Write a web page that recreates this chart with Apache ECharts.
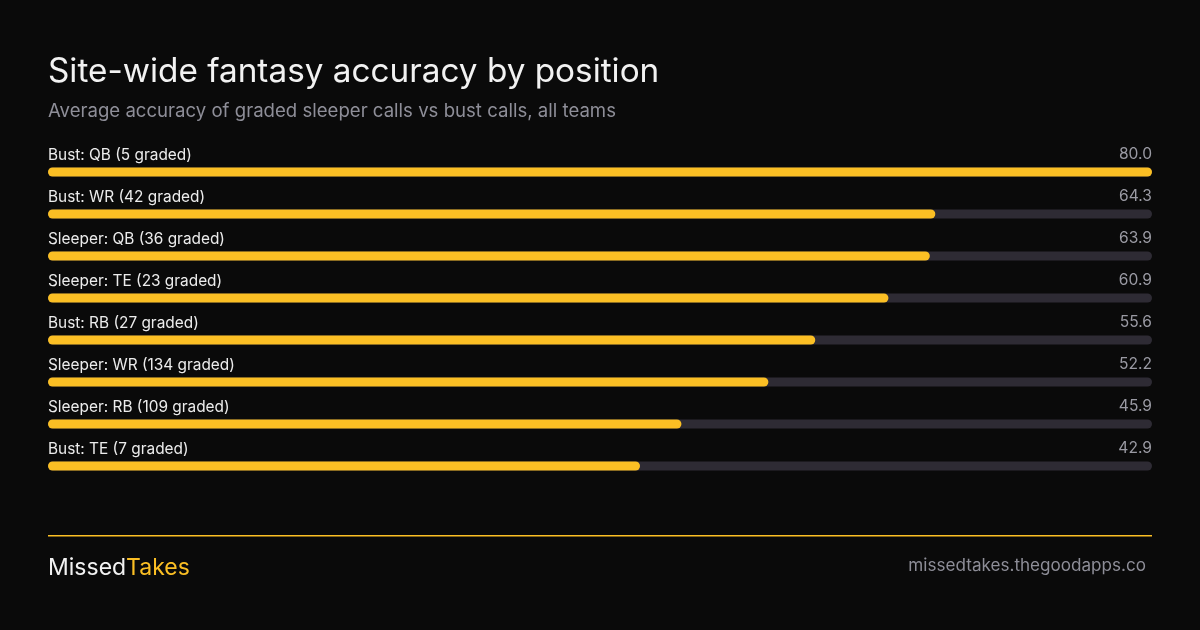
<!DOCTYPE html>
<html>
<head>
<meta charset="utf-8">
<title>Site-wide fantasy accuracy by position</title>
<script src="https://cdn.jsdelivr.net/npm/echarts@6/dist/echarts.min.js"></script>
<style>
  html, body { margin: 0; padding: 0; background: #0a0a0a; }
  #chart { width: 1200px; height: 630px; }
</style>
</head>
<body>
<div id="chart"></div>
<script>
  // data, top to bottom
  const categories = [
    'Bust: QB (5 graded)',
    'Bust: WR (42 graded)',
    'Sleeper: QB (36 graded)',
    'Sleeper: TE (23 graded)',
    'Bust: RB (27 graded)',
    'Sleeper: WR (134 graded)',
    'Sleeper: RB (109 graded)',
    'Bust: TE (7 graded)'
  ];
  const accuracy = [80.0, 64.3, 63.9, 60.9, 55.6, 52.2, 45.9, 42.9];
  const scaleMax = 80;

  const FONT = 'Inter, "Noto Sans", sans-serif';
  const YELLOW = '#fbbf24';
  const TRACK = '#2e2b34';
  const MUTED = '#8e8e98';

  const chart = echarts.init(document.getElementById('chart'), null, { renderer: 'canvas' });

  chart.setOption({
    backgroundColor: '#0a0a0a',
    animation: false,
    textStyle: { fontFamily: FONT },
    grid: { left: 48, right: 48, top: 151, bottom: 143, containLabel: false },
    xAxis: {
      type: 'value', min: 0, max: scaleMax,
      show: false
    },
    yAxis: {
      type: 'category', data: categories, inverse: true,
      show: false
    },
    series: [
      {
        // grey track, carries the value label on the right
        type: 'bar',
        data: accuracy.map(() => scaleMax),
        barWidth: 9,
        barGap: '-100%',
        silent: true,
        itemStyle: { color: TRACK, borderRadius: 4.5 },
        label: {
          show: true,
          position: ['100%', -5],
          align: 'right',
          verticalAlign: 'bottom',
          fontFamily: FONT,
          fontSize: 15.6,
          color: '#9a9aa3',
          formatter: p => accuracy[p.dataIndex].toFixed(1)
        }
      },
      {
        type: 'bar',
        data: accuracy,
        barWidth: 9,
        barGap: '-100%',
        itemStyle: { color: YELLOW, borderRadius: 4.5 },
        label: {
          show: true,
          position: [0, -5],
          align: 'left',
          verticalAlign: 'bottom',
          fontFamily: FONT,
          fontSize: 15.4,
          color: '#ececec',
          formatter: '{b}'
        }
      }
    ],
    graphic: [
      {
        type: 'text', left: 48, top: 55,
        style: { text: 'Site-wide fantasy accuracy by position', fill: '#f2f2f2', font: '33.3px ' + FONT }
      },
      {
        type: 'text', left: 48, top: 102,
        style: { text: 'Average accuracy of graded sleeper calls vs bust calls, all teams', fill: MUTED, font: '18.6px ' + FONT }
      },
      {
        type: 'rect', shape: { x: 48, y: 535, width: 1104, height: 1.5 },
        style: { fill: YELLOW }
      },
      {
        type: 'text', left: 48, top: 557,
        style: {
          text: '{a|Missed}{b|Takes}',
          rich: {
            a: { fill: '#f2f2f2', font: '23px ' + FONT },
            b: { fill: YELLOW, font: '23px ' + FONT }
          }
        }
      },
      {
        type: 'text', right: 54, top: 557,
        style: { text: 'missedtakes.thegoodapps.co', fill: MUTED, font: '17.1px ' + FONT }
      }
    ]
  });
</script>
</body>
</html>
